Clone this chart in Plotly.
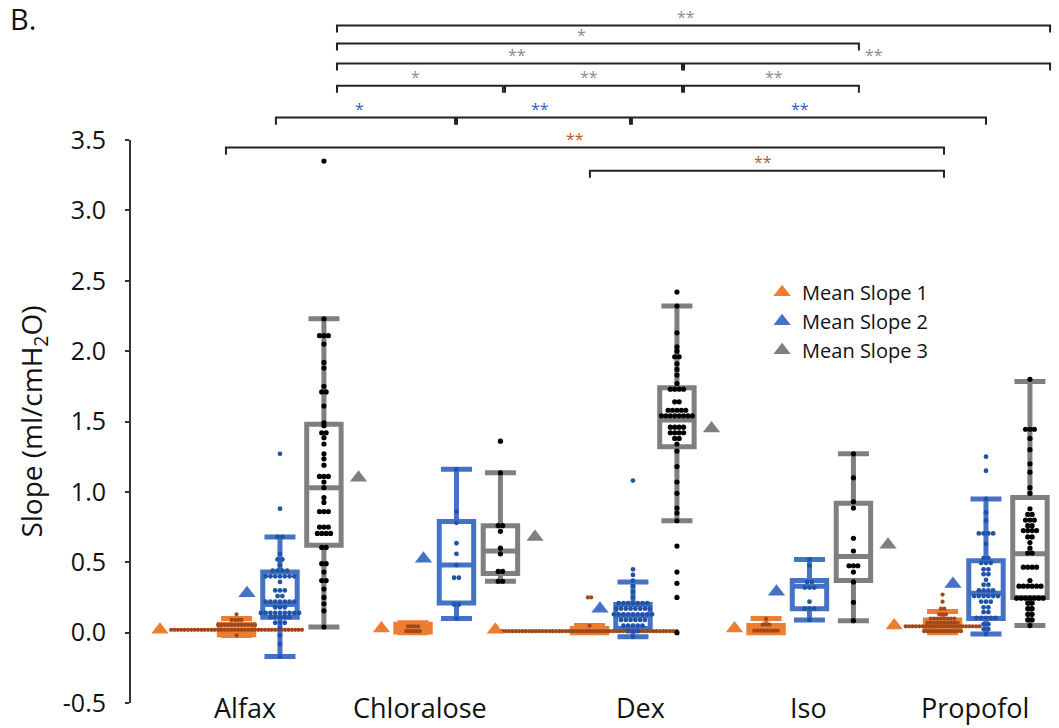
import plotly.graph_objects as go

# ---------------- data ----------------
categories = ["Alfax", "Chloralose", "Dex", "Iso", "Propofol"]
series_names = ["Mean Slope 1", "Mean Slope 2", "Mean Slope 3"]
y_tick_vals = [-0.5, 0.0, 0.5, 1.0, 1.5, 2.0, 2.5, 3.0, 3.5]
y_tick_text = ["-0.5", "0.0", "0.5", "1.0", "1.5", "2.0", "2.5", "3.0", "3.5"]

# box statistics per category (Slope 1 / 2 / 3)
s1_q1 = [-0.015, 0.005, 0.0, 0.0, 0.02]
s1_median = [0.02, 0.03, 0.01, 0.02, 0.05]
s1_q3 = [0.06, 0.06, 0.03, 0.05, 0.09]
s1_low = [-0.02, 0.0, 0.0, 0.0, 0.0]
s1_high = [0.10, 0.07, 0.05, 0.10, 0.15]

s2_q1 = [0.11, 0.21, 0.03, 0.17, 0.10]
s2_median = [0.20, 0.48, 0.12, 0.33, 0.28]
s2_q3 = [0.43, 0.79, 0.20, 0.37, 0.51]
s2_low = [-0.17, 0.10, -0.03, 0.09, -0.01]
s2_high = [0.68, 1.16, 0.36, 0.52, 0.95]

s3_q1 = [0.62, 0.42, 1.32, 0.37, 0.25]
s3_median = [1.03, 0.58, 1.51, 0.54, 0.56]
s3_q3 = [1.48, 0.76, 1.74, 0.92, 0.96]
s3_low = [0.04, 0.365, 0.795, 0.085, 0.05]
s3_high = [2.23, 1.135, 2.32, 1.27, 1.785]

# mean slopes (triangles)
s1_mean = [0.02, 0.03, 0.02, 0.03, 0.05]
s2_mean = [0.28, 0.525, 0.17, 0.29, 0.345]
s3_mean = [1.10, 0.68, 1.45, 0.625, 0.65]

# individual points: value levels and number of dots at each level
alfax_s1_vals = [0.13, 0.09, 0.055, 0.02, -0.02]
alfax_s1_cnts = [1, 4, 12, 40, 1]
chlor_s1_vals = [0.045, 0.01]
chlor_s1_cnts = [4, 5]
dex_s1_vals = [0.25, 0.05, 0.01]
dex_s1_cnts = [2, 1, 53]
iso_s1_vals = [0.097, 0.057, 0.014]
iso_s1_cnts = [1, 3, 8]
prop_s1_vals = [0.27, 0.22, 0.17, 0.13, 0.10, 0.07, 0.045, 0.01]
prop_s1_cnts = [1, 1, 2, 3, 8, 10, 23, 12]

alfax_s2_vals = [1.27, 0.88, 0.68, 0.56, 0.52, 0.48, 0.44, 0.40, 0.36, 0.30, 0.26,
                 0.22, 0.18, 0.14, 0.11, 0.07, 0.03, -0.02, -0.08, -0.17]
alfax_s2_cnts = [1, 1, 2, 1, 2, 1, 4, 7, 1, 3, 2, 7, 3, 9, 5, 3, 1, 1, 1, 1]
chlor_s2_vals = [1.16, 0.86, 0.78, 0.635, 0.56, 0.48, 0.39, 0.20, 0.10]
chlor_s2_cnts = [1, 1, 1, 1, 1, 1, 2, 2, 1]
dex_s2_vals = [1.08, 0.45, 0.41, 0.37, 0.33, 0.29, 0.25, 0.21, 0.17, 0.13, 0.09, 0.05, 0.01, -0.03]
dex_s2_cnts = [1, 1, 1, 1, 1, 1, 1, 7, 8, 9, 6, 5, 3, 1]
iso_s2_vals = [0.52, 0.475, 0.36, 0.32, 0.22, 0.17, 0.09]
iso_s2_cnts = [1, 1, 2, 3, 1, 3, 1]
prop_s2_vals = [1.25, 1.15, 0.95, 0.855, 0.795, 0.705, 0.63, 0.53, 0.495, 0.45, 0.415,
                0.375, 0.34, 0.30, 0.26, 0.22, 0.18, 0.145, 0.105, 0.06, 0.025, -0.01]
prop_s2_cnts = [1, 1, 1, 1, 1, 4, 1, 2, 3, 2, 2, 1, 2, 4, 6, 3, 2, 2, 5, 2, 2, 1]

alfax_s3_vals = [3.35, 2.23, 2.11, 2.05, 1.92, 1.88, 1.75, 1.71, 1.61, 1.49, 1.47, 1.42,
                 1.385, 1.34, 1.27, 1.235, 1.19, 1.11, 1.07, 1.03, 0.96, 0.925, 0.86, 0.75,
                 0.705, 0.605, 0.49, 0.43, 0.37, 0.31, 0.25, 0.205, 0.155, 0.04]
alfax_s3_cnts = [1, 1, 3, 1, 1, 1, 1, 2, 1, 1, 1, 2, 1, 1, 1, 1, 1, 3, 1, 1, 1, 1, 3, 3,
                 4, 2, 2, 1, 2, 1, 1, 1, 1, 1]
chlor_s3_vals = [1.36, 1.135, 0.76, 0.72, 0.60, 0.56, 0.435, 0.365]
chlor_s3_cnts = [1, 1, 2, 1, 1, 1, 2, 2]
dex_s3_vals = [2.42, 2.32, 2.13, 2.03, 2.0, 1.96, 1.91, 1.87, 1.83, 1.77, 1.73, 1.64, 1.58,
               1.54, 1.46, 1.42, 1.38, 1.34, 1.29, 1.18, 1.07, 0.99, 0.885, 0.85, 0.795,
               0.615, 0.43, 0.35, 0.25, 0.0]
dex_s3_cnts = [1, 1, 1, 1, 1, 2, 1, 1, 1, 1, 4, 2, 5, 8, 4, 4, 2, 1, 1, 1, 1, 1, 1, 1, 1,
               1, 1, 1, 1, 1]
iso_s3_vals = [1.27, 1.10, 0.93, 0.885, 0.67, 0.58, 0.475, 0.43, 0.36, 0.215, 0.085]
iso_s3_cnts = [1, 1, 1, 1, 1, 1, 3, 1, 1, 1, 1]
prop_s3_vals = [1.80, 1.445, 1.38, 1.30, 1.20, 1.14, 1.03, 0.99, 0.88, 0.84, 0.80, 0.76,
                0.725, 0.68, 0.64, 0.60, 0.565, 0.465, 0.37, 0.33, 0.245, 0.21, 0.17, 0.13,
                0.09, 0.05]
prop_s3_cnts = [1, 3, 1, 1, 1, 1, 1, 1, 1, 2, 3, 2, 4, 2, 1, 1, 2, 4, 1, 6, 7, 2, 2, 2, 2, 1]

# significance brackets: (x start, x end, height in y units, star text, star colour key, star x)
brackets = [
    (0.323, 4.363, 4.313, "**", "g", 2.30),
    (0.323, 3.280, 4.185, "*", "g", 1.711),
    (0.323, 2.278, 4.043, "**", "g", 1.343),
    (2.289, 4.363, 4.043, "**", "g", 3.365),
    (0.323, 1.263, 3.886, "*", "g", 0.765),
    (1.275, 2.278, 3.886, "**", "g", 1.751),
    (2.289, 3.280, 3.886, "**", "g", 2.799),
    (-0.023, 0.992, 3.659, "*", "b", 0.448),
    (1.003, 1.983, 3.659, "**", "b", 1.473),
    (1.994, 4.000, 3.659, "**", "b", 2.946),
    (-0.306, 3.762, 3.446, "**", "o", 1.671),
    (1.756, 3.762, 3.282, "**", "o", 2.737),
]

# ---------------- styling / layout constants ----------------
FONT = "Open Sans"
box_off = [-0.246, 0.0, 0.249]
tri_off_s1 = [-0.68, -0.425, -0.78, -0.425, -0.52]
tri_off_s2 = -0.187
tri_off_s3 = 0.445
label_off = [-0.198, -0.207, 0.04, -0.008, -0.062]
box_colors = ["#ED7D31", "#4472C4", "#7F7F7F"]
dot_colors = ["#A0481A", "#2153A6", "#000000"]
dot_sizes = [4.2, 4.8, 5.2]
dot_spacing = [0.019, 0.027, 0.025]
star_colors = {"g": "#8C8C8C", "b": "#3461BE", "o": "#B85A22"}
Y_LO, Y_HI = -0.5, 3.5
X_LO, X_HI = -0.844, 4.391

q1s = [s1_q1, s2_q1, s3_q1]
meds = [s1_median, s2_median, s3_median]
q3s = [s1_q3, s2_q3, s3_q3]
lows = [s1_low, s2_low, s3_low]
highs = [s1_high, s2_high, s3_high]
means = [s1_mean, s2_mean, s3_mean]
points = [
    [(alfax_s1_vals, alfax_s1_cnts), (chlor_s1_vals, chlor_s1_cnts), (dex_s1_vals, dex_s1_cnts),
     (iso_s1_vals, iso_s1_cnts), (prop_s1_vals, prop_s1_cnts)],
    [(alfax_s2_vals, alfax_s2_cnts), (chlor_s2_vals, chlor_s2_cnts), (dex_s2_vals, dex_s2_cnts),
     (iso_s2_vals, iso_s2_cnts), (prop_s2_vals, prop_s2_cnts)],
    [(alfax_s3_vals, alfax_s3_cnts), (chlor_s3_vals, chlor_s3_cnts), (dex_s3_vals, dex_s3_cnts),
     (iso_s3_vals, iso_s3_cnts), (prop_s3_vals, prop_s3_cnts)],
]

fig = go.Figure()

# boxes
for s in range(3):
    for g in range(len(categories)):
        fig.add_trace(go.Box(
            x=[g + box_off[s]], q1=[q1s[s][g]], median=[meds[s][g]], q3=[q3s[s][g]],
            lowerfence=[lows[s][g]], upperfence=[highs[s][g]],
            width=0.195, whiskerwidth=0.9, boxpoints=False,
            fillcolor="white", line=dict(color=box_colors[s], width=5),
            showlegend=False, hoverinfo="skip",
        ))

# dots (rows of equal values spread symmetrically around the box centre)
for s in range(3):
    xs, ys = [], []
    for g in range(len(categories)):
        vals, cnts = points[s][g]
        c = g + box_off[s]
        for v, k in zip(vals, cnts):
            for j in range(k):
                xs.append(c + (j - (k - 1) / 2) * dot_spacing[s])
                ys.append(v)
    fig.add_trace(go.Scatter(
        x=xs, y=ys, mode="markers",
        marker=dict(color=dot_colors[s], size=dot_sizes[s], line=dict(width=0)),
        showlegend=False, hoverinfo="skip",
    ))

# mean triangles
tri_x = [
    [g + tri_off_s1[g] for g in range(len(categories))],
    [g + tri_off_s2 for g in range(len(categories))],
    [g + tri_off_s3 for g in range(len(categories))],
]
for s in range(3):
    fig.add_trace(go.Scatter(
        x=tri_x[s], y=means[s], mode="markers", name=series_names[s],
        marker=dict(symbol="triangle-up", size=15, color=box_colors[s], line=dict(width=0)),
    ))


def ypaper(v):
    return (v - Y_LO) / (Y_HI - Y_LO)


shapes = []
annotations = []
tick = 0.05
for x0, x1, yv, txt, ck, sx in brackets:
    path = (f"M {x0},{ypaper(yv - tick)} L {x0},{ypaper(yv)} "
            f"L {x1},{ypaper(yv)} L {x1},{ypaper(yv - tick)}")
    shapes.append(dict(type="path", path=path, xref="x", yref="paper",
                       line=dict(color="#222222", width=2)))
    annotations.append(dict(x=sx, y=ypaper(yv), xref="x", yref="paper", text=txt,
                            showarrow=False, yanchor="bottom", yshift=-4,
                            font=dict(family=FONT, size=16, color=star_colors[ck])))

# category labels
for g, name in enumerate(categories):
    annotations.append(dict(x=g + label_off[g], y=ypaper(-0.53), xref="x", yref="paper",
                            text=name, showarrow=False, xanchor="center", yanchor="middle",
                            font=dict(family=FONT, size=27, color="#111111")))

# panel letter
annotations.append(dict(x=-0.1335, y=1.215, xref="paper", yref="paper", text="B.",
                        showarrow=False, xanchor="left", yanchor="middle",
                        font=dict(family=FONT, size=29, color="#111111")))

fig.update_layout(
    width=1059, height=728,
    margin=dict(l=131, r=4, t=140, b=25),
    paper_bgcolor="white", plot_bgcolor="white",
    boxmode="overlay",
    font=dict(family=FONT, color="#111111"),
    xaxis=dict(range=[X_LO, X_HI], showgrid=False, zeroline=False, showline=False,
               showticklabels=False, ticks=""),
    yaxis=dict(range=[Y_LO, Y_HI], tickvals=y_tick_vals, ticktext=y_tick_text,
               showgrid=False, zeroline=False, showline=True, linewidth=2,
               linecolor="#333333", ticks="outside", ticklen=4, tickwidth=2,
               tickcolor="#333333", ticklabelstandoff=14,
               tickfont=dict(family=FONT, size=25, color="#111111"),
               title=dict(text="Slope (ml/cmH<sub>2</sub>O)", standoff=12,
                          font=dict(family=FONT, size=28, color="#111111"))),
    legend=dict(x=0.683, y=0.764, xanchor="left", yanchor="top",
                bgcolor="rgba(0,0,0,0)", tracegroupgap=0,
                font=dict(family=FONT, size=20, color="#111111")),
    shapes=shapes,
    annotations=annotations,
)

fig.write_html("out.html")
